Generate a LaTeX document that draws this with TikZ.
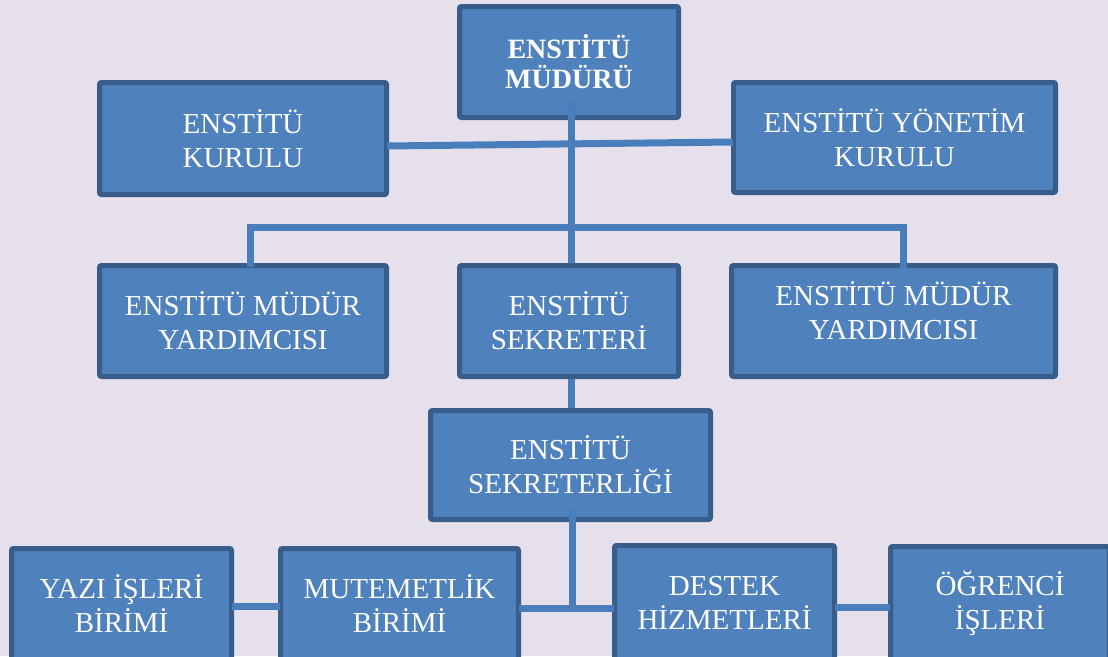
\documentclass[tikz,border=0pt]{standalone}
\usepackage{fontspec}
\setmainfont{Liberation Serif}
\definecolor{bgc}{HTML}{E5E0EC}
\definecolor{boxfill}{HTML}{4F81BD}
\definecolor{boxedge}{HTML}{385D8A}
\definecolor{linec}{HTML}{4A7EBB}
\begin{document}
\begin{tikzpicture}[x=1pt,y=1pt,
  orgbox/.style={draw=boxedge, line width=5pt, fill=boxfill, rounded corners=2pt,
    text=white, align=center, inner sep=0pt,
    font=\fontsize{29}{34}\selectfont},
  topbox/.style={orgbox, font=\fontsize{28}{30}\selectfont\bfseries},
  conn/.style={draw=linec, line width=7pt}]
\useasboundingbox (0,0) rectangle (1108,-656);
\clip (0,0) rectangle (1108,-656);
\fill[bgc] (0,0) rectangle (1108,-656);
% boxes
\node[topbox, minimum width=219, minimum height=111] (top) at (569,-62) {ENSTİTÜ\\MÜDÜRÜ};
\node[orgbox, minimum width=287, minimum height=112] (kurulu) at (243,-138.5) {ENSTİTÜ\\KURULU};
\node[orgbox, minimum width=322, minimum height=110] (yonetim) at (894.5,-137.5) {ENSTİTÜ YÖNETİM\\KURULU};
\node[orgbox, minimum width=287, minimum height=111] (myl) at (243,-321) {ENSTİTÜ MÜDÜR\\YARDIMCISI};
\node[orgbox, minimum width=219, minimum height=111] (sek) at (569,-321) {ENSTİTÜ\\SEKRETERİ};
\node[orgbox, minimum width=324, minimum height=111] (myr) at (893.5,-321) {};
\node[text=white, align=center, font=\fontsize{29}{34}\selectfont] (myrt) at (893.5,-311) {ENSTİTÜ MÜDÜR\\YARDIMCISI};
\node[orgbox, minimum width=280, minimum height=109] (sekl) at (570.5,-465) {ENSTİTÜ\\SEKRETERLİĞİ};
\node[orgbox, minimum width=220, minimum height=111] (yazi) at (121.5,-604) {YAZI İŞLERİ\\BİRİMİ};
\node[orgbox, minimum width=238, minimum height=111] (mut) at (399.5,-604) {MUTEMETLİK\\BİRİMİ};
\node[orgbox, minimum width=220, minimum height=114] (destek) at (724.5,-602.5) {DESTEK\\HİZMETLERİ};
\node[orgbox, minimum width=219, minimum height=113] (ogr) at (1000,-603) {ÖĞRENCİ\\İŞLERİ};
% connector coordinates
\coordinate (tv) at (571,-101);
\coordinate (bl) at (250,-224);
\coordinate (br) at (903,-224);
\coordinate (j) at (572,-608);
% connectors
\draw[conn] (tv) -- (tv |- sek.north);
\draw[conn] ([yshift=-7.5pt,xshift=-2pt]kurulu.east) -- ([yshift=-4.5pt,xshift=2pt]yonetim.west);
\draw[conn] ([yshift=-4pt]bl |- myl.north) -- ([yshift=-3.5pt]bl) -- ([yshift=-3.5pt]br) -- ([yshift=-6pt]br |- myr.north);
\draw[conn] (sek.south -| tv) -- (sekl.north -| tv);
\draw[conn] ([yshift=12pt]sekl.south -| j) -- ([yshift=-3.5pt]j);
\draw[conn] ([xshift=-2pt]mut.east |- j) -- ([xshift=2pt]destek.west |- j);
\draw[conn] ([xshift=-2pt]yazi.east |- 0,-606) -- ([xshift=2pt]mut.west |- 0,-606);
\draw[conn] ([xshift=-2pt]destek.east |- 0,-607) -- ([xshift=2pt]ogr.west |- 0,-607);
\end{tikzpicture}
\end{document}
